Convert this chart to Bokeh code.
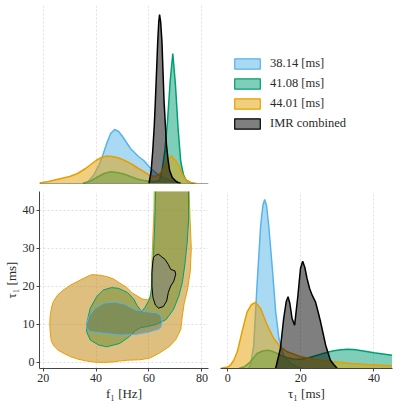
from bokeh.plotting import figure
from bokeh.layouts import gridplot
from bokeh.models import Range1d, FixedTicker, Legend, LegendItem, Span
from bokeh.embed import file_html
from bokeh.resources import INLINE

# ---------------- data ----------------
labels = ["38.14 [ms]", "41.08 [ms]", "44.01 [ms]", "IMR combined"]
line_colors = ["#56B4E9", "#009E73", "#E69F00", "#000000"]

# marginal of f1 (heights in arbitrary density units)
f_blue = [35, 37, 39, 41, 42.5, 44, 45.5, 47, 48.5, 50, 51.5, 53, 54.5, 56, 58, 60, 62, 64, 66, 68, 70, 72]
d_f_blue = [0, 2, 8, 18, 28, 40, 50, 54, 52, 47, 41, 35, 31, 27, 23, 17, 12, 8, 5, 3, 1.5, 0]
f_green = [35, 38, 40.5, 43, 45.5, 48, 50.5, 53, 55.5, 58, 60.5, 62.5, 64, 65, 66, 67, 68, 69, 70, 71, 72, 73, 74, 75.5, 77]
d_f_green = [0, 2.5, 6.5, 10, 11.7, 11, 9.5, 7, 4.5, 3, 2, 2, 3, 14, 33, 62, 102, 130, 99, 55, 22, 9, 3.5, 1, 0]
f_orange = [18.5, 22, 26, 30, 33, 36, 38, 40, 42, 44, 46, 48, 50, 52, 54, 56, 58, 60, 62, 64, 66, 67, 68.5, 70, 71, 72, 73, 74, 76, 78]
d_f_orange = [0.5, 2, 4.5, 7, 10, 15, 19, 23, 26, 27.5, 27, 26, 24, 21.5, 18.5, 15, 12, 8.5, 7, 9, 17, 23, 27.5, 23, 19, 13, 7, 3.5, 0.8, 0]
f_black = [60, 60.8, 61.4, 62, 62.4, 62.9, 63.3, 63.7, 64.0, 64.4, 64.9, 65.3, 65.7, 66.2, 66.6, 67.2, 67.8, 68.8, 70, 71, 72]
d_f_black = [0, 12, 32, 58, 82, 115, 142, 162, 169, 162, 142, 112, 82, 58, 39, 24, 13, 6, 2.7, 1, 0]

# marginal of tau1
t_blue = [5.5, 6.2, 7.1, 8.0, 9.0, 9.6, 10.1, 10.6, 11.2, 12.2, 13.1, 14.0, 15.3, 17.2, 19, 20.5]
d_t_blue = [0, 3, 23, 83, 143, 163, 169, 163, 143, 100, 57, 30, 13, 5, 1.7, 0]
t_green = [3, 4.5, 6.2, 8, 9.5, 10.8, 12, 13.5, 15, 16.3, 18, 19.9, 22, 24.5, 27, 29, 31, 32.7, 34.5, 36.3, 38, 40, 42.5, 45]
d_t_green = [0, 1.7, 6.7, 15, 17.5, 18.3, 17.5, 15, 12.5, 10.7, 9.5, 9.3, 10.5, 13.3, 16, 17.7, 18.8, 19.3, 19, 18, 17, 15.7, 14.5, 13.3]
t_orange = [-2, 0, 0.7, 1.6, 2.6, 3.9, 5.3, 6.5, 7.6, 9.0, 10.8, 12.6, 14.4, 16.3, 19.9, 24, 29, 34, 38.2, 42, 45]
d_t_orange = [0, 1.5, 3.3, 8, 16.7, 36.7, 56.7, 64, 66, 60, 43.3, 30, 21.7, 16.7, 11.7, 9, 6.7, 5, 4, 3.3, 2.7]
t_black = [13.1, 14.4, 15.3, 16.0, 16.5, 17.0, 17.6, 18.3, 19.2, 19.9, 20.5, 21.1, 21.7, 22.4, 23.1, 24.0, 24.7, 25.4, 26.1, 26.8, 28.1, 29.0, 30.0]
d_t_black = [0, 20, 50, 67, 71.7, 65, 50, 43.3, 73, 100, 107.3, 101, 90, 80, 73.3, 66.7, 57, 46.7, 35, 23.3, 8.3, 4, 0]

# 90% credible regions in the (f1, tau1) plane
c_orange_f = [62.0, 61.9, 61.7, 61.2, 61.0, 60.8, 60.4, 59.4, 57.5, 53.8, 51.5, 48.9, 46.5, 44.0, 41.0, 38.4, 36.6, 33.5, 30.4, 27.5, 25.5, 23.8, 23.1, 22.6, 22.5, 22.7, 23.1, 24.2, 25.5, 28.0, 30.4, 33.5, 36.6, 40.0, 42.8, 46.0, 48.9, 52.0, 56.5, 60.2, 64.0, 67.7, 70.1, 72.0, 72.6, 73.3, 74.5, 75.6, 76.0, 75.5, 75.1]
c_orange_t = [47, 40, 36.9, 28.1, 22, 18.5, 17.0, 16.5, 16.7, 18.2, 19.8, 20.9, 22.0, 22.6, 23.0, 23.1, 22.6, 21.5, 20.4, 19.0, 17.8, 16.0, 14.3, 12.0, 9.9, 7.5, 5.5, 4.2, 3.3, 2.3, 1.5, 0.8, 0.35, 0.05, 0.0, 0.1, 0.35, 0.6, 0.7, 1.1, 2.5, 4.2, 6.0, 8.6, 12.2, 15.5, 19, 24, 30, 38, 47]
c_green_f = [62.6, 62.3, 62.2, 61.7, 61.2, 60.2, 58.4, 57.2, 55.5, 54.3, 51.9, 48.5, 45.8, 42.8, 40.3, 37.8, 36.6, 36.4, 37.8, 40.9, 44.0, 48.9, 52.6, 55.1, 57.0, 59.0, 62.7, 66.5, 69.3, 71.3, 72.6, 73.6, 74.5, 75.0, 74.9]
c_green_t = [47, 40, 36.9, 28.1, 20.1, 16.6, 14.4, 13.4, 15.0, 16.6, 18.4, 19.5, 19.7, 19.1, 17.4, 14.3, 10.7, 8.1, 5.9, 4.6, 4.1, 5.0, 6.8, 8.5, 9.2, 9.4, 10.0, 11.3, 14.0, 17.5, 21, 26, 32, 38, 47]
c_blue_f = [36.4, 37.2, 39.7, 42.8, 47.1, 50.8, 55.1, 58.8, 63.1, 64.5, 64.9, 64.5, 63.7, 60.0, 55.1, 48.9, 42.8, 37.8, 36.6]
c_blue_t = [9.9, 12.1, 14.3, 15.6, 15.9, 15.3, 13.8, 13.4, 13.0, 12.3, 10.9, 9.3, 8.8, 8.0, 7.4, 7.2, 7.7, 8.1, 8.8]
c_black_f = [62.4, 63.6, 64.8, 66.1, 67.3, 68.2, 69.8, 70.1, 69.4, 68.2, 67.3, 66.7, 65.4, 63.6, 62.4, 61.5, 61.1, 61.1, 61.4, 61.7]
c_black_t = [28.2, 28.5, 27.8, 27.1, 25.8, 24.5, 24.1, 23.2, 21.4, 20.1, 18.4, 16.2, 14.7, 14.3, 15.1, 17.1, 20.1, 23.6, 26.2, 27.6]

f_ticks = [20, 40, 60, 80]
t_ticks_y = [0, 10, 20, 30, 40]
t_ticks_x = [0, 20, 40]

# 2D fill colours (chosen to reproduce the blended look of the original)
region_fill = ["#5F7858", "#648C32", "#BF7F00", "#7F7F7F"]

FONT = "Liberation Serif"
GRID = "#e0e0e0"
SPINE = "#444444"
TXT = "#2a2a2a"

F_RANGE = (18.6, 82.5)
T_RANGE = (-1.6, 45.0)
TX_RANGE = (-2.0, 45.1)

W1L, W1F, W1R = 36, 172, 4
W2L, W2F, W2R = 8, 172, 4
H1T, H1F, H1B = 5, 178, 8
H2T, H2F, H2B = 0, 177, 36


def style_axis(ax, ticks):
    ax.ticker = FixedTicker(ticks=ticks)
    ax.axis_line_color = SPINE
    ax.major_tick_line_color = SPINE
    ax.major_tick_in = 0
    ax.major_tick_out = 3
    ax.minor_tick_line_color = None
    ax.major_label_text_font = FONT
    ax.major_label_text_color = TXT
    ax.major_label_text_font_size = "12px"
    ax.major_label_standoff = 2
    ax.axis_label_standoff = 1
    ax.axis_label_text_font = FONT
    ax.axis_label_text_font_style = "normal"
    ax.axis_label_text_font_size = "13px"
    ax.axis_label_text_color = TXT


def base_fig(w, h, bl, br, bt, bb, xr, yr):
    p = figure(width=w, height=h, x_range=Range1d(*xr), y_range=Range1d(*yr),
               output_backend="svg", toolbar_location=None,
               min_border_left=bl, min_border_right=br,
               min_border_top=bt, min_border_bottom=bb)
    p.outline_line_color = None
    p.background_fill_color = "white"
    p.border_fill_color = "white"
    p.xgrid.grid_line_color = GRID
    p.xgrid.grid_line_dash = "2 2"
    p.ygrid.grid_line_color = GRID
    p.ygrid.grid_line_dash = "2 2"
    return p


# ---------------- top marginal (f1) ----------------
p_top = base_fig(W1L + W1F + W1R, H1T + H1F + H1B, W1L, W1R, H1T, H1B, F_RANGE, (0, 178))
p_top.yaxis.visible = False
p_top.xaxis.visible = False
p_top.ygrid.visible = False
p_top.xgrid.ticker = FixedTicker(ticks=f_ticks)
for xs, ys, c in [(f_blue, d_f_blue, line_colors[0]), (f_green, d_f_green, line_colors[1]),
                  (f_orange, d_f_orange, line_colors[2]), (f_black, d_f_black, line_colors[3])]:
    p_top.varea(x=xs, y1=[0] * len(xs), y2=ys, fill_color=c, fill_alpha=0.5)
    p_top.line(xs, ys, line_color=c, line_width=1.5)
p_top.add_layout(Span(location=0, dimension="width", line_color=SPINE, line_width=1))

# ---------------- legend panel ----------------
p_leg = figure(width=W2L + W2F + W2R, height=H1T + H1F + H1B, x_range=Range1d(0, 1), y_range=Range1d(0, 1),
               output_backend="svg", toolbar_location=None,
               min_border_left=0, min_border_right=0, min_border_top=0, min_border_bottom=0)
p_leg.axis.visible = False
p_leg.grid.visible = False
p_leg.outline_line_color = None
items = []
for lab, c in zip(labels, line_colors):
    r = p_leg.quad(left=[10], right=[11], top=[10], bottom=[9], fill_color=c, fill_alpha=0.5,
                   line_color=c, line_width=1.2)
    items.append(LegendItem(label=lab, renderers=[r]))
leg = Legend(items=items, location=(11, 52), orientation="vertical")
leg.glyph_width = 32
leg.glyph_height = 13
leg.label_height = 13
leg.spacing = 5
leg.padding = 0
leg.margin = 0
leg.label_standoff = 7
leg.border_line_color = None
leg.background_fill_alpha = 0
leg.label_text_font = FONT
leg.label_text_font_size = "12.5px"
leg.label_text_color = TXT
p_leg.add_layout(leg)

# ---------------- 2D panel ----------------
p_2d = base_fig(W1L + W1F + W1R, H2T + H2F + H2B, W1L, W1R, H2T, H2B, F_RANGE, T_RANGE)
style_axis(p_2d.xaxis[0], f_ticks)
style_axis(p_2d.yaxis[0], t_ticks_y)
p_2d.xgrid.ticker = FixedTicker(ticks=f_ticks)
p_2d.ygrid.ticker = FixedTicker(ticks=t_ticks_y)
p_2d.xaxis.axis_label = "f₁ [Hz]"
p_2d.yaxis.axis_label = "τ₁ [ms]"
for xs, ys, fc, lc in [(c_orange_f, c_orange_t, region_fill[2], line_colors[2]),
                       (c_green_f, c_green_t, region_fill[1], line_colors[1]),
                       (c_blue_f, c_blue_t, region_fill[0], line_colors[0]),
                       (c_black_f, c_black_t, region_fill[3], line_colors[3])]:
    p_2d.patch(xs, ys, fill_color=fc, fill_alpha=0.5, line_color=lc, line_width=1)

# ---------------- right marginal (tau1) ----------------
p_right = base_fig(W2L + W2F + W2R, H2T + H2F + H2B, W2L, W2R, H2T, H2B, TX_RANGE, (0, 177))
p_right.yaxis.visible = False
p_right.ygrid.visible = False
style_axis(p_right.xaxis[0], t_ticks_x)
p_right.xgrid.ticker = FixedTicker(ticks=t_ticks_x)
p_right.xaxis.axis_label = "τ₁ [ms]"
for xs, ys, c in [(t_blue, d_t_blue, line_colors[0]), (t_green, d_t_green, line_colors[1]),
                  (t_orange, d_t_orange, line_colors[2]), (t_black, d_t_black, line_colors[3])]:
    p_right.varea(x=xs, y1=[0] * len(xs), y2=ys, fill_color=c, fill_alpha=0.5)
    p_right.line(xs, ys, line_color=c, line_width=1.5)

grid = gridplot([[p_top, p_leg], [p_2d, p_right]], toolbar_location=None)

with open("out.html", "w") as fh:
    fh.write(file_html(grid, INLINE))
